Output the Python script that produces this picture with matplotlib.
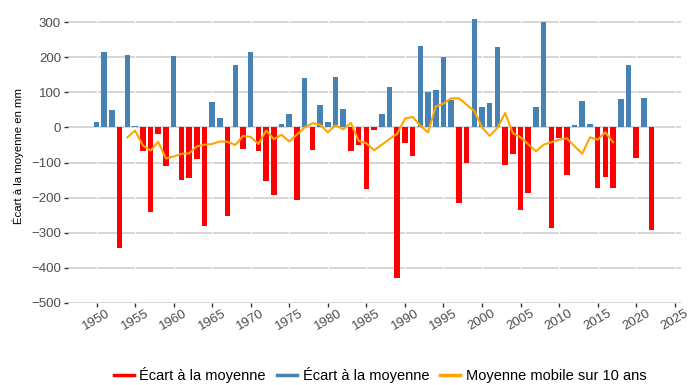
import numpy as np
import matplotlib
matplotlib.use("Agg")
import matplotlib.pyplot as plt
from matplotlib.lines import Line2D

plt.rcParams['font.family'] = ['Liberation Sans', 'DejaVu Sans']

# Écart annuel à la moyenne (mm), 1950-2022
annees = list(range(1950, 2023))
ecart = [15, 214, 51, -342, 206, 5, -68, -242, -20, -111,
         203, -150, -145, -90, -281, 73, 26, -251, 177, -61,
         214, -66, -152, -191, 10, 39, -207, 140, -65, 64,
         16, 144, 52, -68, -51, -174, -7, 39, 115, -429,
         -43, -81, 232, 100, 107, 200, 79, -214, -101, 310,
         58, 71, 230, -106, -75, -236, -188, 58, 301, -285,
         -29, -135, 6, 76, 10, -173, -140, -173, 81, 177,
         -88, 84, -291]

# Moyenne mobile sur 10 ans, 1954-2017
annees_mm = list(range(1954, 2018))
moy_mobile = [-28, -9, -51, -66, -41, -88, -83, -75, -74, -54,
              -49, -47, -40, -41, -50, -24, -27, -47, -9, -33,
              -21, -40, -20, 0, 12, 8, -14, 6, -5, 13,
              -38, -45, -65, -49, -33, -18, 25, 30, 5, -14,
              60, 68, 83, 83, 65, 47, 0, -24, -1, 41,
              -16, -28, -48, -68, -49, -42, -35, -31, -53, -75,
              -28, -35, -14, -42]

ROUGE = "#FF0000"
BLEU = "#4682B4"
ORANGE = "#FFA500"

fig = plt.figure(figsize=(6.91, 3.85), dpi=100)
ax = fig.add_axes([0.0984, 0.213, 0.887, 0.766])

couleurs = [BLEU if v >= 0 else ROUGE for v in ecart]
ax.bar(annees, ecart, width=0.72, color=couleurs, zorder=2)
ax.plot(annees_mm, moy_mobile, color=ORANGE, lw=1.5, zorder=3)

ax.set_xlim(1946.3, 2025.8)
ax.set_ylim(-500, 340)
ax.set_yticks(range(-500, 301, 100))
ax.set_xticks(range(1950, 2026, 5))

ax.set_axisbelow(True)
ax.yaxis.grid(True, color="#cccccc", lw=1.1)
for x in ax.get_xticks():
    ax.axvline(x, color="white", lw=0.8, zorder=1)

for s in ax.spines.values():
    s.set_visible(False)

ax.tick_params(axis='y', colors="#333333", labelcolor="#4d4d4d",
               labelsize=9.5, length=3, width=1, pad=2)
ax.tick_params(axis='x', colors="#333333", labelcolor="#4d4d4d",
               labelsize=9.5, length=3, width=1, pad=0)
for lab in ax.get_xticklabels():
    lab.set_rotation(30)
    lab.set_ha('center')

ax.set_ylabel("Écart à la moyenne en mm", fontsize=8.2, labelpad=5)

handles = [Line2D([], [], color=ROUGE, lw=2.5),
           Line2D([], [], color=BLEU, lw=2.5),
           Line2D([], [], color=ORANGE, lw=2.5)]
labels = ["Écart à la moyenne", "Écart à la moyenne",
          "Moyenne mobile sur 10 ans"]
fig.legend(handles, labels, loc='center', bbox_to_anchor=(0.55, 0.026),
           ncol=3, frameon=False, fontsize=10.5, handlelength=1.37,
           handletextpad=0.4, columnspacing=0.75, borderpad=0)

fig.savefig("out.png", dpi=100)
